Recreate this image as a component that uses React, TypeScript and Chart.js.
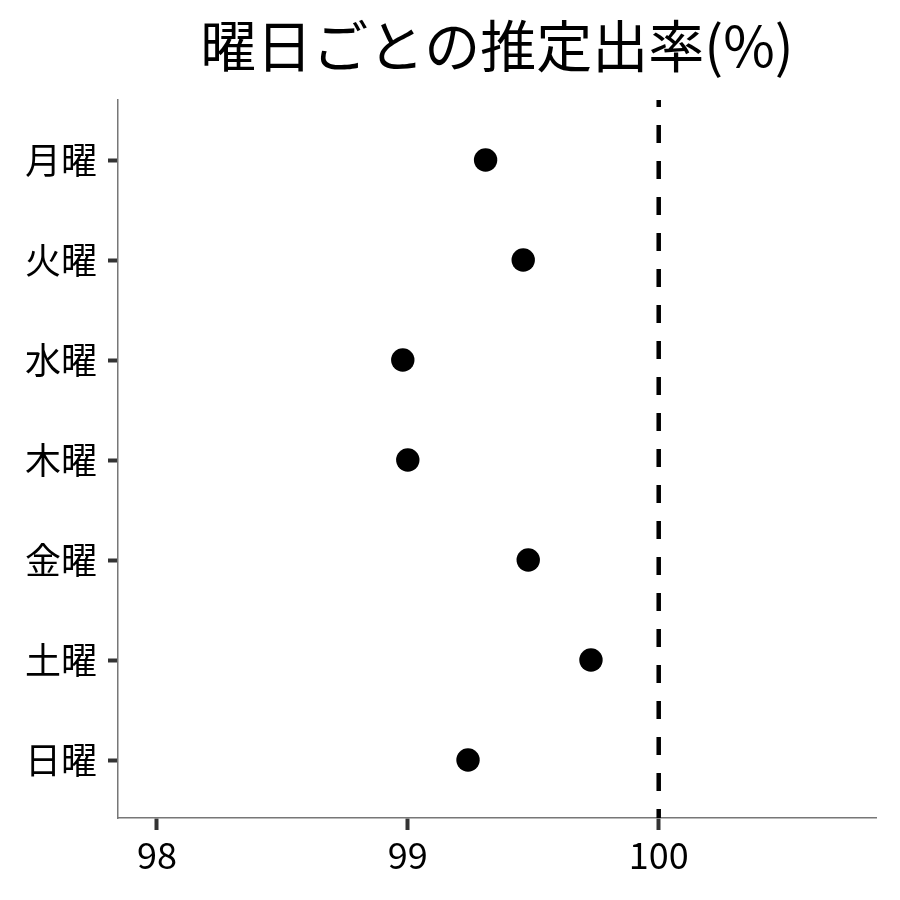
import { useEffect, useRef } from "react";
import { Chart, registerables } from "chart.js";

Chart.register(...registerables);

const DAYS = ["月曜", "火曜", "水曜", "木曜", "金曜", "土曜", "日曜"];
const RATES = [99.31, 99.46, 98.98, 99.0, 99.48, 99.73, 99.24];
const X_TICKS = [98, 99, 100];
const REF_VALUE = 100;

const FONT = "'Noto Sans CJK JP', 'Noto Sans', sans-serif";

// dashed reference line, drawn through the x scale
const refLinePlugin = {
  id: "refLine",
  afterDatasetsDraw(chart: Chart) {
    const { ctx, chartArea, scales } = chart;
    const x = scales.x.getPixelForValue(REF_VALUE);
    ctx.save();
    ctx.strokeStyle = "#000";
    ctx.lineWidth = 4.5;
    ctx.setLineDash([18, 18]);
    ctx.lineDashOffset = 11;
    ctx.beginPath();
    ctx.moveTo(x, chartArea.top);
    ctx.lineTo(x, chartArea.bottom);
    ctx.stroke();
    ctx.restore();
  },
};

export default function App() {
  const canvasRef = useRef<HTMLCanvasElement>(null);

  useEffect(() => {
    if (!canvasRef.current) return;
    const chart = new Chart(canvasRef.current, {
      type: "scatter",
      data: {
        datasets: [
          {
            data: RATES.map((v, i) => ({ x: v, y: i })),
            backgroundColor: "#000",
            borderWidth: 0,
            pointRadius: 11.7,
            pointHoverRadius: 11.7,
          },
        ],
      },
      plugins: [refLinePlugin],
      options: {
        animation: false,
        responsive: false,
        devicePixelRatio: 1,
        layout: { padding: { left: 0, right: 24, top: 0, bottom: 0 } },
        plugins: {
          legend: { display: false },
          tooltip: { enabled: false },
          title: {
            display: true,
            text: "曜日ごとの推定出率(%)",
            color: "#000",
            fullSize: false,
            font: { family: FONT, size: 56, weight: "normal" },
            padding: { top: 12, bottom: 20.8 },
          },
        },
        scales: {
          x: {
            type: "linear",
            min: 97.845,
            max: 100.866,
            afterBuildTicks: (s: any) => {
              s.ticks = X_TICKS.map((v) => ({ value: v }));
            },
            afterFit: (s: any) => {
              s.height = 82;
            },
            grid: { drawOnChartArea: false, tickLength: 12, tickWidth: 4, tickColor: "#333" },
            border: { color: "#777", width: 1.5 },
            ticks: {
              color: "#000",
              padding: 4,
              font: { family: FONT, size: 36 },
            },
          },
          y: {
            type: "linear",
            reverse: true,
            min: -0.6,
            max: 6.58,
            afterBuildTicks: (s: any) => {
              s.ticks = DAYS.map((_, i) => ({ value: i }));
            },
            afterFit: (s: any) => {
              s.width = 118;
            },
            grid: { drawOnChartArea: false, tickLength: 10, tickWidth: 4, tickColor: "#333" },
            border: { color: "#777", width: 1.5 },
            ticks: {
              color: "#000",
              padding: 11,
              font: { family: FONT, size: 36 },
              callback: (v: any) => DAYS[v] ?? "",
            },
          },
        },
      },
    });
    return () => chart.destroy();
  }, []);

  return (
    <div style={{ position: "absolute", left: 0, top: 0, width: 900, height: 900, background: "#fff" }}>
      <canvas ref={canvasRef} width={900} height={900} />
    </div>
  );
}
